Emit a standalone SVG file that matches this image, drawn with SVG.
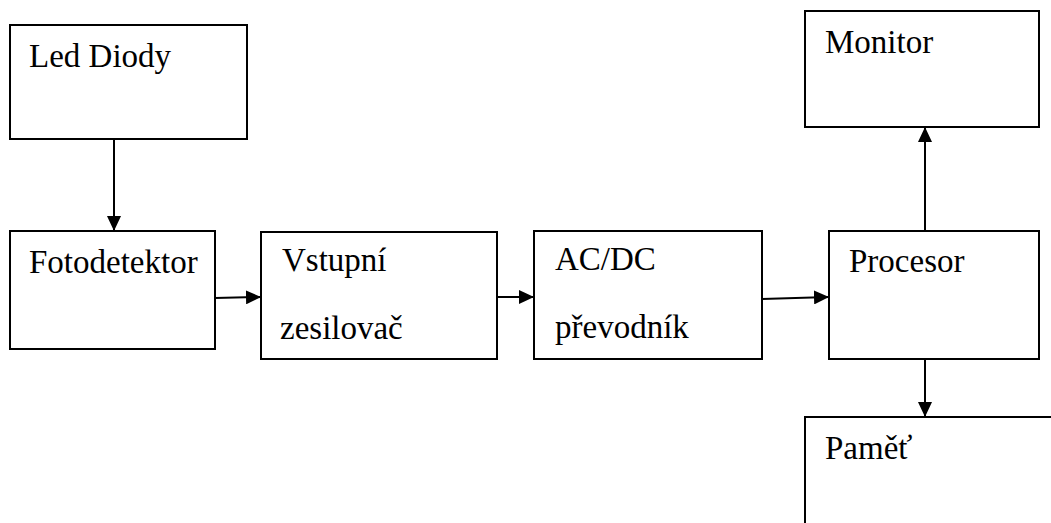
<svg xmlns="http://www.w3.org/2000/svg" width="1051" height="523" viewBox="0 0 1051 523">
<style>
.box{fill:#fff;stroke:#000;stroke-width:2}
.lbl{font-family:'Liberation Serif','Times New Roman',serif;font-size:33px;fill:#000}
.con{stroke:#000;stroke-width:2;fill:none;marker-end:url(#ah)}
</style>
<defs>
<marker id="ah" markerUnits="userSpaceOnUse" markerWidth="16" markerHeight="14" refX="15" refY="7" orient="auto">
<path d="M0,0 L15,7 L0,14 Z" fill="#000"/>
</marker>
</defs>
<rect width="1051" height="523" fill="#fff"/>
<g id="led"><rect class="box" x="10" y="25" width="237" height="114"/><text class="lbl" x="29" y="67">Led Diody</text></g>
<g id="foto"><rect class="box" x="10" y="231" width="205" height="118"/><text class="lbl" x="29" y="273">Fotodetektor</text></g>
<g id="vstup"><rect class="box" x="261" y="232" width="236" height="127"/><text class="lbl" x="282" y="271">Vstupní</text><text class="lbl" x="280" y="339">zesilovač</text></g>
<g id="acdc"><rect class="box" x="534" y="231" width="228" height="128"/><text class="lbl" x="555" y="270">AC/DC</text><text class="lbl" x="555" y="338">převodník</text></g>
<g id="proc"><rect class="box" x="829" y="231" width="210" height="128"/><text class="lbl" x="849" y="272">Procesor</text></g>
<g id="monitor"><rect class="box" x="805" y="11" width="234" height="116"/><text class="lbl" x="825" y="53">Monitor</text></g>
<g id="pamet"><rect class="box" x="805" y="417" width="260" height="120"/><text class="lbl" x="825" y="459">Paměť</text></g>
<g id="connectors">
<line class="con" x1="114" y1="139" x2="114" y2="231"/>
<line class="con" x1="215" y1="298" x2="261" y2="297"/>
<line class="con" x1="497" y1="297" x2="534" y2="297"/>
<line class="con" x1="762" y1="299" x2="829" y2="297"/>
<line class="con" x1="925" y1="231" x2="925" y2="127"/>
<line class="con" x1="925" y1="359" x2="925" y2="417"/>
</g>
</svg>
